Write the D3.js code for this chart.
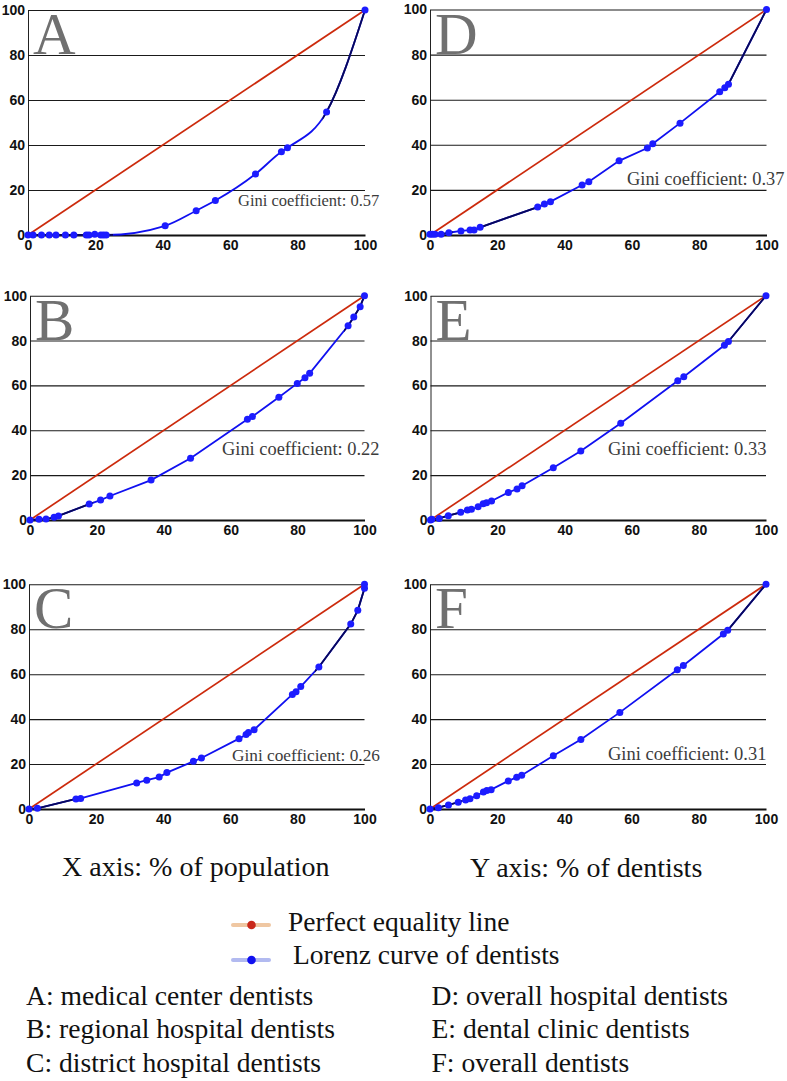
<!DOCTYPE html>
<html>
<head>
<meta charset="utf-8">
<script src="https://cdn.jsdelivr.net/npm/d3@7"></script>
<style>
  html, body { margin: 0; padding: 0; background: #fff; }
  svg { display: block; }
</style>
</head>
<body>
<svg id="chart" width="787" height="1081"></svg>
<script>
// ---------------- DATA ----------------
const panelLetters = ["A", "B", "C", "D", "E", "F"];
const giniValues = ["0.57", "0.22", "0.26", "0.37", "0.33", "0.31"];
const tickValues = [0, 20, 40, 60, 80, 100];
const equalityLine = [[0, 0], [100, 100]];

const lorenzA = [[0,0],[1.5,0],[4,0],[6.3,0],[8.3,0],[11.1,0],[13.6,0],[17.3,0],[18.1,0],[19.8,0.3],[21.6,0],[22.4,0],[23.2,0],
  [40.7,4.1],[49.9,10.8],[55.6,15.3],[67.5,27.1],[75.2,37.0],[77.0,38.8],[88.6,54.7],[100,100]];
const lorenzB = [[0,0],[2.7,0.3],[4.8,0.4],[7.2,1.2],[8.5,1.8],[17.7,7.1],[21.1,8.9],[23.9,10.7],[36.2,17.8],[48.0,27.5],
  [65.0,44.9],[66.5,46.1],[74.4,54.7],[79.9,60.9],[82.2,63.4],[83.6,65.4],[95.1,86.6],[96.8,90.5],[98.7,95.1],[100,100]];
const lorenzC = [[0,0],[2.5,0.3],[14.0,4.5],[15.4,4.7],[32.1,11.6],[35.1,12.8],[38.8,14.2],[41.1,16.2],[49.0,21.2],[51.4,22.7],
  [62.6,31.3],[64.7,33.1],[65.4,34.0],[67.1,35.3],[78.5,51.0],[79.6,52.2],[81.0,54.5],[86.4,63.2],[95.9,82.3],[98.0,88.4],[100,98.2],[100,100]];
const lorenzD = [[0,0.3],[0.7,0.3],[1.5,0.3],[3.3,0.3],[5.6,1.0],[9.2,1.8],[11.9,2.2],[13.1,2.2],[14.9,3.4],[32.0,12.4],[34.0,13.7],
  [35.8,14.8],[45.2,22.2],[47.2,23.6],[56.2,32.9],[64.6,38.6],[66.2,40.5],[74.3,49.6],[86.1,63.5],[87.6,65.3],[88.7,66.9],[100,100]];
const lorenzE = [[0,0],[0.4,0.3],[2.6,0.7],[5.3,1.9],[9.0,3.4],[11.0,4.5],[12.2,4.8],[14.2,5.9],[15.7,7.3],[16.7,7.7],[18.2,8.5],
  [23.2,12.3],[25.8,13.8],[27.3,15.3],[36.6,23.3],[44.8,30.8],[56.7,43.1],[73.7,62.1],[75.5,63.9],[87.6,77.9],[88.8,79.6],[100,100]];
const lorenzF = [[0,0],[2.5,0.6],[5.5,1.8],[8.4,3.0],[10.6,4.0],[11.9,4.6],[13.9,5.9],[15.9,7.6],[16.9,8.2],[18.2,8.6],
  [23.3,12.5],[25.8,14.1],[27.3,15.0],[36.7,23.7],[44.9,30.9],[56.5,43.0],[73.6,62.0],[75.4,63.9],[87.3,77.9],[88.6,79.5],[100,100]];
const lorenzSeries = [lorenzA, lorenzB, lorenzC, lorenzD, lorenzE, lorenzF];

const axisTitles = ["X axis: % of population", "Y axis: % of dentists"];
const legendLabels = ["Perfect equality line", "Lorenz curve of dentists"];
const panelDescriptions = ["A: medical center dentists", "B: regional hospital dentists", "C: district hospital dentists",
  "D: overall hospital dentists", "E: dental clinic dentists", "F: overall dentists"];

// ---------------- LAYOUT / STYLE ----------------
const layout = [
  { x0: 28,  x1: 365,   yb: 235, yt: 10,    gx: 238, gy: 206, gs: 16.5, curve: d3.curveMonotoneX, dark: [[0, 24], [88.6, 100]] },
  { x0: 30,  x1: 364.5, yb: 520, yt: 295.7, gx: 222, gy: 455, gs: 18.4, curve: d3.curveLinear, dark: [[0, 17.7], [95.1, 100]] },
  { x0: 29,  x1: 364.5, yb: 809, yt: 584.3, gx: 232, gy: 761, gs: 17.3, curve: d3.curveLinear, dark: [[0, 14], [86.4, 100]] },
  { x0: 430, x1: 766.5, yb: 235, yt: 9.5,   gx: 627, gy: 185, gs: 18.4, curve: d3.curveLinear, dark: [[0, 5.6], [14.9, 32], [88.7, 100]] },
  { x0: 430.5, x1: 766, yb: 520, yt: 295.7, gx: 608, gy: 455, gs: 18.5, curve: d3.curveLinear, dark: [[0, 9], [88.8, 100]] },
  { x0: 430, x1: 766,   yb: 809, yt: 584.3, gx: 608, gy: 760, gs: 18.5, curve: d3.curveLinear, dark: [[0, 8.4], [88.6, 100]] }
];
const serif = "'Liberation Serif', 'Times New Roman', Times, serif";
const sans = "'Liberation Sans', Arial, Helvetica, sans-serif";

const svg = d3.select("#chart");
svg.append("rect").attr("width", 787).attr("height", 1081).attr("fill", "#fff");
const defs = svg.append("defs");

layout.forEach((L, i) => {
  const x = d3.scaleLinear().domain([0, 100]).range([L.x0, L.x1]);
  const y = d3.scaleLinear().domain([0, 100]).range([L.yb, L.yt]);
  const g = svg.append("g").attr("class", "panel-" + panelLetters[i]);

  // y axis with gridlines
  const yAxis = g.append("g")
    .attr("transform", `translate(${L.x0},0)`)
    .call(d3.axisLeft(y).tickValues(tickValues).tickSize(-(L.x1 - L.x0)).tickSizeOuter(0).tickPadding(3));
  yAxis.select(".domain").attr("stroke", "#222").attr("stroke-width", 1);
  yAxis.selectAll(".tick line").attr("stroke", "#1a1a1a").attr("stroke-width", 1.1);
  yAxis.selectAll(".tick text").attr("font-family", sans).attr("font-weight", "bold")
    .attr("font-size", 14).attr("fill", "#111");

  // x axis
  const xAxis = g.append("g")
    .attr("transform", `translate(0,${L.yb})`)
    .call(d3.axisBottom(x).tickValues(tickValues).tickSize(0).tickPadding(5));
  xAxis.select(".domain").attr("stroke", "#111").attr("stroke-width", 2.2);
  xAxis.selectAll(".tick text").attr("font-family", sans).attr("font-weight", "bold")
    .attr("font-size", 14).attr("fill", "#111");

  // panel letter
  g.append("text").attr("x", L.x0 + 5).attr("y", L.yt + 44)
    .attr("font-family", serif).attr("font-size", 59).attr("fill", "#707070")
    .text(panelLetters[i]);

  // gini text
  g.append("text").attr("x", L.gx).attr("y", L.gy)
    .attr("font-family", serif).attr("font-size", L.gs).attr("fill", "#3c3c3c")
    .text("Gini coefficient: " + giniValues[i]);

  // perfect equality line
  const lineGen = d3.line().x(d => x(d[0])).y(d => y(d[1]));
  g.append("path").datum(equalityLine).attr("d", lineGen)
    .attr("fill", "none").attr("stroke", "#cc2a0c").attr("stroke-width", 1.7);

  // lorenz curve
  const data = lorenzSeries[i];
  const curveGen = d3.line().x(d => x(d[0])).y(d => y(d[1])).curve(L.curve);
  g.append("path").datum(data).attr("d", curveGen)
    .attr("fill", "none").attr("stroke", "#1010f0").attr("stroke-width", 1.8);

  // darker segments
  L.dark.forEach((r, j) => {
    const id = `clip-${i}-${j}`;
    defs.append("clipPath").attr("id", id).append("rect")
      .attr("x", x(r[0]) - 4).attr("y", L.yt - 5)
      .attr("width", x(r[1]) - x(r[0]) + 8).attr("height", L.yb - L.yt + 10);
    g.append("path").datum(data).attr("d", curveGen)
      .attr("clip-path", `url(#${id})`)
      .attr("fill", "none").attr("stroke", "#08085a").attr("stroke-width", 1.8);
  });

  g.selectAll("circle.pt").data(data).enter().append("circle").attr("class", "pt")
    .attr("cx", d => x(d[0])).attr("cy", d => y(d[1])).attr("r", 3.5)
    .attr("fill", "#1c1cff");
});

// ---------------- LEGEND ----------------
svg.append("text").attr("x", 62).attr("y", 876).attr("font-family", serif).attr("font-size", 28)
  .attr("fill", "#111").text(axisTitles[0]);
svg.append("text").attr("x", 470).attr("y", 877).attr("font-family", serif).attr("font-size", 28)
  .attr("fill", "#111").text(axisTitles[1]);

const legendStyles = [
  { y: 925, line: "#efc7a2", dot: "#c9281a", tx: 288, ty: 930.5 },
  { y: 960, line: "#b2baf0", dot: "#1010f0", tx: 293, ty: 964 }
];
legendStyles.forEach((s, i) => {
  svg.append("line").attr("x1", 233).attr("x2", 269).attr("y1", s.y).attr("y2", s.y)
    .attr("stroke", s.line).attr("stroke-width", 4).attr("stroke-linecap", "round");
  svg.append("circle").attr("cx", 251.5).attr("cy", s.y).attr("r", 4.3).attr("fill", s.dot);
  svg.append("text").attr("x", s.tx).attr("y", s.ty).attr("font-family", serif).attr("font-size", 27.5)
    .attr("fill", "#111").text(legendLabels[i]);
});

panelDescriptions.forEach((t, i) => {
  const col = Math.floor(i / 3), row = i % 3;
  svg.append("text").attr("x", col === 0 ? 26 : 431.5).attr("y", 1005 + row * 33.3)
    .attr("font-family", serif).attr("font-size", 27.6).attr("fill", "#111").text(t);
});
</script>
</body>
</html>
